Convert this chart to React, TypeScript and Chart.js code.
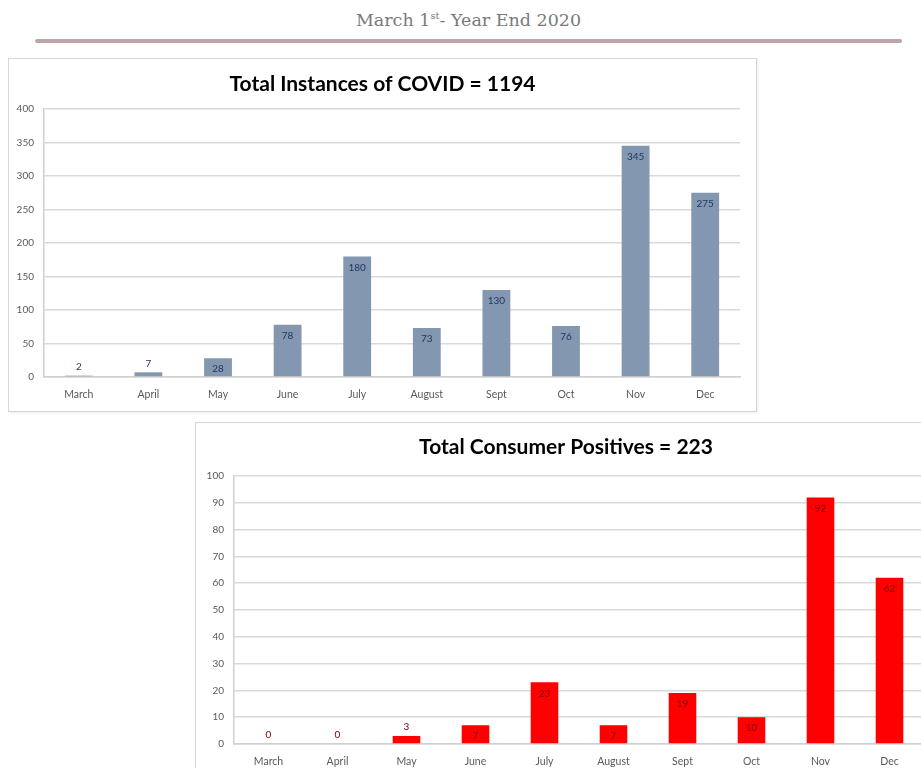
import React, { useEffect, useRef } from "react";
import { Chart, registerables } from "chart.js";

Chart.register(...registerables);

const months = ["March", "April", "May", "June", "July", "August", "Sept", "Oct", "Nov", "Dec"];
const covidInstances = [2, 7, 28, 78, 180, 73, 130, 76, 345, 275];
const consumerPositives = [0, 0, 3, 7, 23, 7, 19, 10, 92, 62];
const covidTitle = "Total Instances of COVID = 1194";
const consumerTitle = "Total Consumer Positives = 223";

const FONT = "Lato, 'Open Sans', sans-serif";

const barLabelPlugin = {
  id: "barLabels",
  afterDatasetsDraw(chart: any, _args: any, opts: any) {
    const ctx = chart.ctx;
    const meta = chart.getDatasetMeta(0);
    const data = chart.data.datasets[0].data as number[];
    ctx.save();
    ctx.font = `10px ${FONT}`;
    ctx.fillStyle = opts.color || "#1f3864";
    ctx.textAlign = "center";
    ctx.textBaseline = "middle";
    meta.data.forEach((bar: any, i: number) => {
      const h = bar.base - bar.y;
      const y = h < 16 ? bar.y - 9 : bar.y + 11;
      ctx.fillText(String(data[i]), bar.x, y);
    });
    ctx.restore();
  },
};

const centerTitlePlugin = {
  id: "centerTitle",
  afterDraw(chart: any, _args: any, opts: any) {
    const ctx = chart.ctx;
    ctx.save();
    ctx.font = `bold 21px ${FONT}`;
    ctx.fillStyle = "#000000";
    ctx.textAlign = "center";
    ctx.textBaseline = "middle";
    ctx.fillText(opts.text, chart.width / 2, opts.y);
    ctx.restore();
  },
};

function BarPanel(props: {
  values: number[];
  title: string;
  titleY: number;
  color: string;
  labelColor: string;
  max: number;
  step: number;
  width: number;
  height: number;
  yWidth: number;
  xHeight: number;
  padRight: number;
  padTop: number;
}) {
  const ref = useRef<HTMLCanvasElement>(null);
  useEffect(() => {
    if (!ref.current) return;
    const chart = new Chart(ref.current, {
      type: "bar",
      data: {
        labels: months,
        datasets: [
          {
            data: props.values,
            backgroundColor: props.color,
            barPercentage: 0.8,
            categoryPercentage: 0.5,
          },
        ],
      },
      options: {
        responsive: false,
        animation: false,
        devicePixelRatio: 1,
        layout: { padding: { left: 0, right: props.padRight, top: props.padTop, bottom: 0 } },
        plugins: {
          legend: { display: false },
          tooltip: { enabled: false },
          title: { display: false },
          centerTitle: { text: props.title, y: props.titleY },
          barLabels: { color: props.labelColor },
        } as any,
        scales: {
          x: {
            grid: { display: false, drawTicks: false },
            border: { display: true, color: "#d0d0d0", width: 1.5 },
            ticks: { color: "#595959", font: { family: FONT, size: 10.5 }, padding: 11, maxRotation: 0 },
            afterFit: (s: any) => {
              s.height = props.xHeight;
            },
          },
          y: {
            min: 0,
            max: props.max,
            ticks: { stepSize: props.step, color: "#595959", font: { family: FONT, size: 10 }, padding: 10 },
            grid: { color: "#d9d9d9", lineWidth: 1.5, drawTicks: false },
            border: { display: true, color: "#d0d0d0", width: 1.5 },
            afterFit: (s: any) => {
              s.width = props.yWidth;
            },
          },
        },
      },
      plugins: [barLabelPlugin, centerTitlePlugin],
    });
    return () => chart.destroy();
  }, []);
  return <canvas ref={ref} width={props.width} height={props.height} style={{ display: "block" }} />;
}

export default function App() {
  return (
    <div
      style={{
        position: "fixed",
        left: 0,
        top: 0,
        width: 921,
        height: 768,
        overflow: "hidden",
        background: "#ffffff",
      }}
    >
      <div
        style={{
          position: "absolute",
          left: 35,
          top: 6,
          width: 867,
          textAlign: "center",
          fontFamily: "'DejaVu Serif', serif",
          fontSize: 17.5,
          color: "#7a7a7a",
          lineHeight: "28px",
        }}
      >
        March 1<sup style={{ fontSize: 10, lineHeight: 0 }}>st</sup>- Year End 2020
      </div>
      <div
        style={{
          position: "absolute",
          left: 35,
          top: 39,
          width: 867,
          height: 4,
          background: "#bda6aa",
          borderRadius: 2,
        }}
      />
      <div
        style={{
          position: "absolute",
          left: 8,
          top: 58,
          width: 747,
          height: 352,
          border: "1px solid #d6d6d6",
          boxShadow: "1px 1px 2px rgba(0,0,0,0.08)",
        }}
      >
        <BarPanel
          values={covidInstances}
          title={covidTitle}
          titleY={25}
          color="#8497b0"
          labelColor="#1f3864"
          max={400}
          step={50}
          width={747}
          height={352}
          yWidth={35}
          xHeight={34}
          padRight={16}
          padTop={50}
        />
      </div>
      <div
        style={{
          position: "absolute",
          left: 195,
          top: 422,
          width: 740,
          height: 360,
          border: "1px solid #d6d6d6",
          boxShadow: "1px 1px 2px rgba(0,0,0,0.08)",
        }}
      >
        <BarPanel
          values={consumerPositives}
          title={consumerTitle}
          titleY={24}
          color="#ff0000"
          labelColor="#7a0000"
          max={100}
          step={10}
          width={740}
          height={360}
          yWidth={38}
          xHeight={39}
          padRight={12}
          padTop={53}
        />
      </div>
    </div>
  );
}
